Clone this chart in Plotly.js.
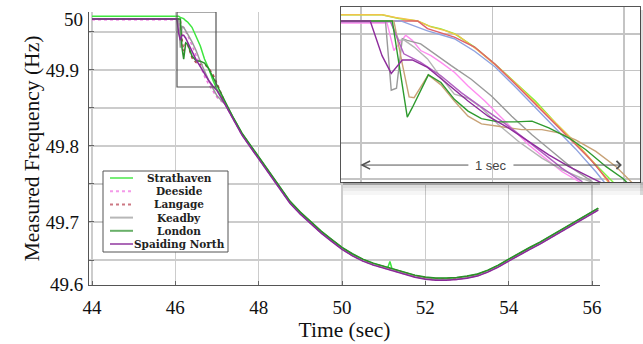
<!DOCTYPE html>
<html><head><meta charset="utf-8">
<script src="https://cdn.plot.ly/plotly-3.0.1.min.js"></script>
<style>html,body{margin:0;padding:0;background:#fff}#chart{width:643px;height:344px}</style>
</head><body><div id="chart"></div>
<script>
// ---------- main chart data ----------
const seriesNames = ['Strathaven', 'Deeside', 'Langage', 'Keadby', 'London', 'Spaiding North'];
const seriesColors = ['#3ee63e', '#f070e0', '#b84050', '#9a9a9a', '#2a8f2a', '#8a2a9a'];
const seriesDash = ['solid', 'dot', 'dot', 'solid', 'solid', 'solid'];

const time_s = [44, 46, 46.04, 46.08, 46.12, 46.16, 46.2, 46.25, 46.3, 46.4, 46.5, 46.6, 46.7, 46.8, 46.9, 47,
  47.2, 47.4, 47.6, 47.8, 48, 48.25, 48.5, 48.75, 49, 49.25, 49.5, 49.75, 50, 50.25, 50.5, 50.75,
  51, 51.1, 51.15, 51.2, 51.25, 51.5, 51.75, 52, 52.25, 52.5, 52.75, 53, 53.25, 53.5, 53.75,
  54, 54.25, 54.5, 54.75, 55, 55.25, 55.5, 55.75, 56, 56.15];

const strathaven = [49.9706, 49.9706, 49.9706, 49.9706, 49.9692, 49.9683, 49.9676, 49.9649, 49.9629, 49.9562, 49.9446, 49.9315, 49.9145, 49.9020, 49.8869, 49.8745,
  49.8563, 49.8358, 49.8166, 49.8008, 49.7850, 49.7666, 49.7469, 49.7271, 49.7126, 49.6995, 49.6876, 49.6768, 49.6663, 49.6578, 49.6508, 49.6455,
  49.6416, 49.6400, 49.6480, 49.6384, 49.6376, 49.6337, 49.6297, 49.6271, 49.6258, 49.6258, 49.6265, 49.6284, 49.6311, 49.6363, 49.6429,
  49.6508, 49.6587, 49.6660, 49.6732, 49.6811, 49.6890, 49.6969, 49.7047, 49.7126, 49.7179];
const deeside = [49.9661, 49.9661, 49.9661, 49.9661, 49.9522, 49.9576, 49.9560, 49.9492, 49.9448, 49.9324, 49.9189, 49.9044, 49.8916, 49.8811, 49.8727, 49.8640,
  49.8543, 49.8338, 49.8146, 49.7988, 49.7830, 49.7646, 49.7449, 49.7251, 49.7106, 49.6975, 49.6856, 49.6748, 49.6643, 49.6558, 49.6488, 49.6435,
  49.6396, 49.6380, 49.6372, 49.6364, 49.6356, 49.6317, 49.6277, 49.6251, 49.6238, 49.6238, 49.6245, 49.6264, 49.6291, 49.6343, 49.6409,
  49.6488, 49.6567, 49.6640, 49.6712, 49.6791, 49.6870, 49.6949, 49.7027, 49.7106, 49.7159];
const langage = [49.9672, 49.9672, 49.9672, 49.9672, 49.9672, 49.9414, 49.9249, 49.9360, 49.9325, 49.9158, 49.9096, 49.9075, 49.9070, 49.9026, 49.8945, 49.8826,
  49.8559, 49.8354, 49.8162, 49.8004, 49.7846, 49.7662, 49.7465, 49.7267, 49.7122, 49.6991, 49.6872, 49.6764, 49.6659, 49.6574, 49.6504, 49.6451,
  49.6412, 49.6396, 49.6388, 49.6380, 49.6372, 49.6333, 49.6293, 49.6267, 49.6254, 49.6254, 49.6261, 49.6280, 49.6307, 49.6359, 49.6425,
  49.6504, 49.6583, 49.6656, 49.6728, 49.6807, 49.6886, 49.6965, 49.7043, 49.7122, 49.7175];
const keadby = [49.9672, 49.9672, 49.9672, 49.9672, 49.9292, 49.9572, 49.9560, 49.9522, 49.9470, 49.9370, 49.9254, 49.9111, 49.8985, 49.8865, 49.8761, 49.8660,
  49.8547, 49.8342, 49.8150, 49.7992, 49.7834, 49.7650, 49.7453, 49.7255, 49.7110, 49.6979, 49.6860, 49.6752, 49.6647, 49.6562, 49.6492, 49.6439,
  49.6400, 49.6384, 49.6376, 49.6368, 49.6360, 49.6321, 49.6281, 49.6255, 49.6242, 49.6242, 49.6249, 49.6268, 49.6295, 49.6347, 49.6413,
  49.6492, 49.6571, 49.6644, 49.6716, 49.6795, 49.6874, 49.6953, 49.7031, 49.7110, 49.7163];
const london = [49.9672, 49.9672, 49.9672, 49.9672, 49.9672, 49.9290, 49.9142, 49.9357, 49.9337, 49.9184, 49.9122, 49.9116, 49.9091, 49.9018, 49.8908, 49.8798,
  49.8567, 49.8362, 49.8170, 49.8012, 49.7854, 49.7670, 49.7473, 49.7275, 49.7130, 49.6999, 49.6880, 49.6772, 49.6667, 49.6582, 49.6512, 49.6459,
  49.6420, 49.6404, 49.6396, 49.6388, 49.6380, 49.6341, 49.6301, 49.6275, 49.6262, 49.6262, 49.6269, 49.6288, 49.6315, 49.6367, 49.6433,
  49.6512, 49.6591, 49.6664, 49.6736, 49.6815, 49.6894, 49.6973, 49.7051, 49.7130, 49.7183];
const spaidingNorth = [49.9672, 49.9672, 49.9660, 49.9481, 49.9390, 49.9457, 49.9457, 49.9418, 49.9360, 49.9239, 49.9133, 49.9044, 49.8947, 49.8862, 49.8790, 49.8730,
  49.8540, 49.8335, 49.8143, 49.7985, 49.7827, 49.7643, 49.7446, 49.7248, 49.7103, 49.6972, 49.6853, 49.6745, 49.6640, 49.6555, 49.6485, 49.6432,
  49.6393, 49.6377, 49.6369, 49.6361, 49.6353, 49.6314, 49.6274, 49.6248, 49.6235, 49.6235, 49.6242, 49.6261, 49.6288, 49.6340, 49.6406,
  49.6485, 49.6564, 49.6637, 49.6709, 49.6788, 49.6867, 49.6946, 49.7024, 49.7103, 49.7156];

const yTickVals = [49.65, 49.7, 49.75, 49.8, 49.85, 49.9, 49.95];
const yTickText = ['', '49.7', '', '49.8', '', '49.9', ''];
const yEndTickVals = [49.618, 49.967];
const yEndTickText = ['49.6', '50'];

// zoom box drawn on the main chart (time, Hz)
const zoomBoxT = [46.04, 46.976];
const zoomBoxF = [49.8776, 49.9763];

// ---------- inset (zoom) data ----------
const insetNames = ['Strathaven', 'trace 7', 'trace 8', 'trace 9', 'Deeside', 'Keadby', 'trace 10', 'Langage', 'trace 11', 'London', 'Spaiding North'];
const insetColors = ['#7cf53c', '#f2c24a', '#e0606a', '#8fa3e0', '#ff8cf0', '#9a9a9a', '#b4b4b4', '#c8a276', '#b060c0', '#2e9a2e', '#8e2c9c'];
const inset_strathaven_t = [45.920, 46.080, 46.144, 46.215, 46.260, 46.304, 46.355, 46.432, 46.509, 46.586, 46.663, 46.740, 46.816, 46.868, 46.944, 46.983];
const inset_strathaven_v = [49.9706, 49.9706, 49.9685, 49.9672, 49.9643, 49.9628, 49.9602, 49.9528, 49.9435, 49.9333, 49.9231, 49.9110, 49.8999, 49.8916, 49.8804, 49.8748];
const inset_yellow_t = [45.920, 46.080, 46.131, 46.215, 46.266, 46.317, 46.368, 46.445, 46.522, 46.599, 46.675, 46.752, 46.829, 46.893, 46.944];
const inset_yellow_v = [49.9706, 49.9706, 49.9691, 49.9672, 49.9639, 49.9620, 49.9593, 49.9509, 49.9416, 49.9314, 49.9203, 49.9092, 49.8981, 49.8878, 49.8776];
const inset_red_t = [45.920, 46.215, 46.253, 46.304, 46.355, 46.432, 46.509, 46.586, 46.663, 46.714, 46.791, 46.868, 46.944];
const inset_red_v = [49.9672, 49.9672, 49.9630, 49.9605, 49.9583, 49.9528, 49.9435, 49.9324, 49.9212, 49.9138, 49.9027, 49.8916, 49.8786];
const inset_blue_t = [45.920, 46.151, 46.253, 46.355, 46.432, 46.509, 46.586, 46.663, 46.740, 46.816, 46.893, 46.932];
const inset_blue_v = [49.9672, 49.9672, 49.9617, 49.9574, 49.9505, 49.9420, 49.9309, 49.9194, 49.9079, 49.8967, 49.8841, 49.8771];
const inset_deeside_t = [45.920, 46.099, 46.125, 46.148, 46.170, 46.195, 46.227, 46.266, 46.304, 46.355, 46.407, 46.471, 46.535, 46.586, 46.637, 46.688, 46.765, 46.842];
const inset_deeside_v = [49.9661, 49.9661, 49.9509, 49.9555, 49.9593, 49.9565, 49.9509, 49.9481, 49.9444, 49.9389, 49.9314, 49.9231, 49.9138, 49.9064, 49.8990, 49.8930, 49.8841, 49.8776];
const inset_keadby_t = [45.920, 46.093, 46.115, 46.135, 46.157, 46.176, 46.227, 46.279, 46.343, 46.419, 46.496, 46.573, 46.650, 46.727, 46.804, 46.880];
const inset_keadby_v = [49.9672, 49.9672, 49.9290, 49.9301, 49.9574, 49.9565, 49.9546, 49.9491, 49.9426, 49.9351, 49.9259, 49.9147, 49.9045, 49.8953, 49.8860, 49.8786];
const inset_gray2_t = [45.920, 46.112, 46.144, 46.163, 46.202, 46.253, 46.304, 46.355, 46.407, 46.458, 46.522, 46.599, 46.688, 46.765, 46.842, 46.906];
const inset_gray2_v = [49.9672, 49.9672, 49.9565, 49.9568, 49.9528, 49.9463, 49.9361, 49.9268, 49.9246, 49.9194, 49.9101, 49.9008, 49.8916, 49.8851, 49.8804, 49.8767];
const inset_langage_t = [45.920, 46.125, 46.157, 46.183, 46.202, 46.256, 46.304, 46.355, 46.407, 46.458, 46.522, 46.611, 46.688, 46.752, 46.816, 46.893, 46.970, 47.034];
const inset_langage_v = [49.9672, 49.9672, 49.9435, 49.9253, 49.9249, 49.9375, 49.9320, 49.9231, 49.9147, 49.9105, 49.9092, 49.9073, 49.9073, 49.9055, 49.9017, 49.8953, 49.8869, 49.8776];
const inset_purple2_t = [45.920, 46.112, 46.163, 46.227, 46.304, 46.381, 46.458, 46.535, 46.611, 46.688, 46.765, 46.842];
const inset_purple2_v = [49.9667, 49.9667, 49.9491, 49.9444, 49.9370, 49.9277, 49.9197, 49.9120, 49.9036, 49.8949, 49.8860, 49.8786];
const inset_london_t = [45.920, 46.119, 46.176, 46.195, 46.256, 46.304, 46.355, 46.407, 46.458, 46.522, 46.586, 46.650, 46.714, 46.791, 46.855, 46.932, 46.996, 47.034];
const inset_london_v = [49.9672, 49.9672, 49.9142, 49.9194, 49.9375, 49.9333, 49.9240, 49.9175, 49.9134, 49.9116, 49.9116, 49.9120, 49.9083, 49.9027, 49.8962, 49.8869, 49.8804, 49.8748];
const inset_spaiding_t = [45.920, 46.035, 46.080, 46.115, 46.157, 46.195, 46.253, 46.330, 46.407, 46.483, 46.560, 46.637, 46.714, 46.791, 46.868, 46.932];
const inset_spaiding_v = [49.9672, 49.9672, 49.9481, 49.9383, 49.9457, 49.9457, 49.9416, 49.9324, 49.9231, 49.9147, 49.9083, 49.9008, 49.8934, 49.8869, 49.8813, 49.8767];

// 1-second span marker in the inset
const spanStart = 45.997, spanEnd = 46.992, spanLevel = 49.8878;
const spanLabel = '1 sec';

// ---------- build ----------
const W = 643, H = 344;
const px = x => x / W, py = y => (H - y) / H;
const serif = 'Liberation Serif, Times New Roman, serif';

const mainValues = [strathaven, deeside, langage, keadby, london, spaidingNorth];
const traces = mainValues.map((v, i) => ({
  type: 'scatter', mode: 'lines', x: time_s, y: v, name: seriesNames[i],
  xaxis: 'x', yaxis: 'y', showlegend: false, hoverinfo: 'skip',
  line: {color: seriesColors[i], width: 1.5, dash: seriesDash[i]}
}));

const insetT = [inset_strathaven_t, inset_yellow_t, inset_red_t, inset_blue_t, inset_deeside_t, inset_keadby_t, inset_gray2_t, inset_langage_t, inset_purple2_t, inset_london_t, inset_spaiding_t];
const insetV = [inset_strathaven_v, inset_yellow_v, inset_red_v, inset_blue_v, inset_deeside_v, inset_keadby_v, inset_gray2_v, inset_langage_v, inset_purple2_v, inset_london_v, inset_spaiding_v];
insetT.forEach((t, i) => traces.push({
  type: 'scatter', mode: 'lines', x: t, y: insetV[i], name: insetNames[i] + ' (zoom)',
  xaxis: 'x2', yaxis: 'y2', showlegend: false, hoverinfo: 'skip',
  line: {color: insetColors[i], width: 1.4}
}));

const shapes = [];
// zoom rectangle on main chart
shapes.push({type: 'rect', xref: 'x', yref: 'y', x0: zoomBoxT[0], x1: zoomBoxT[1], y0: zoomBoxF[0], y1: zoomBoxF[1],
  line: {color: '#555', width: 1.2}, fillcolor: 'rgba(0,0,0,0)', layer: 'above'});
// inset drop shadow
[[182, 185, 0.20], [185, 188, 0.13], [188, 191, 0.08], [191, 195, 0.035]].forEach(s => {
  shapes.push({type: 'rect', xref: 'paper', yref: 'paper', x0: px(343), x1: px(643), y0: py(s[1]), y1: py(s[0]),
    line: {width: 0}, fillcolor: 'rgba(0,0,0,' + s[2] + ')', layer: 'above'});
});
shapes.push({type: 'rect', xref: 'paper', yref: 'paper', x0: px(640), x1: px(643), y0: py(195), y1: py(10),
  line: {width: 0}, fillcolor: 'rgba(0,0,0,0.12)', layer: 'above'});
// legend box
shapes.push({type: 'rect', xref: 'paper', yref: 'paper', x0: px(103), x1: px(228), y0: py(252), y1: py(171),
  line: {color: '#555', width: 1}, fillcolor: '#ffffff', layer: 'above'});
const annotations = [];
seriesNames.forEach((n, i) => {
  const yy = 178 + i * 13.2;
  shapes.push({type: 'line', xref: 'paper', yref: 'paper', x0: px(110), x1: px(133), y0: py(yy), y1: py(yy),
    line: {color: seriesColors[i], width: 2, dash: seriesDash[i]}, opacity: 0.7, layer: 'above'});
  annotations.push({xref: 'paper', yref: 'paper', x: px(179), y: py(yy), text: n, showarrow: false, borderpad: 0,
    xanchor: 'center', yanchor: 'middle', font: {family: 'DejaVu Serif, serif', size: 10.5, weight: 'bold', color: '#222'}});
});
// end labels of the frequency axis
const tickFont = {family: serif, size: 19, color: '#111'};
yEndTickVals.forEach((v, i) => annotations.push({xref: 'paper', yref: 'y', x: px(84), y: v, text: yEndTickText[i],
  showarrow: false, xanchor: 'right', yanchor: 'middle', borderpad: 0, font: tickFont}));
// 1 sec span
annotations.push({xref: 'x2', yref: 'y2', axref: 'x2', ayref: 'y2', x: spanStart, y: spanLevel, ax: 46.414, ay: spanLevel,
  text: '', showarrow: true, arrowhead: 5, arrowsize: 1.6, arrowwidth: 1, arrowcolor: '#555'});
annotations.push({xref: 'x2', yref: 'y2', axref: 'x2', ayref: 'y2', x: spanEnd, y: spanLevel, ax: 46.574, ay: spanLevel,
  text: '', showarrow: true, arrowhead: 4, arrowsize: 1.6, arrowwidth: 1, arrowcolor: '#555'});
annotations.push({xref: 'x2', yref: 'y2', x: 46.494, y: spanLevel, text: spanLabel, showarrow: false,
  xanchor: 'center', yanchor: 'middle', font: {family: 'Liberation Sans, Arial, sans-serif', size: 13, color: '#444'}});

const yRange = [49.6171, 49.9763];
const layout = {
  width: W, height: H, margin: {l: 0, r: 0, t: 0, b: 0},
  paper_bgcolor: '#ffffff', plot_bgcolor: '#ffffff', showlegend: false,
  font: {family: serif, color: '#111'},
  xaxis: {domain: [px(89), px(600)], range: [43.928, 56.192], anchor: 'y', automargin: false,
    tickmode: 'linear', tick0: 44, dtick: 2, showgrid: true, gridcolor: '#cccccc', gridwidth: 1.5,
    zeroline: false, showline: true, linecolor: '#555', linewidth: 1.2,
    ticks: 'inside', ticklen: 4, tickcolor: '#666', tickfont: tickFont, ticklabelstandoff: 5,
    title: {text: 'Time (sec)', font: {family: serif, size: 21.5, color: '#111'}, standoff: 4}},
  yaxis: {domain: [59 / H, 332 / H], range: yRange, anchor: 'x', automargin: false,
    tickmode: 'array', tickvals: yTickVals, ticktext: yTickText,
    showgrid: true, gridcolor: '#cccccc', gridwidth: 1.5, zeroline: false,
    showline: true, linecolor: '#555', linewidth: 1.2,
    ticks: 'inside', ticklen: 5, tickcolor: '#666', tickfont: tickFont, ticklabelstandoff: 5,
    title: {text: 'Measured Frequency (Hz)', font: {family: serif, size: 21.5, color: '#111'}, standoff: 0}},
  xaxis2: {domain: [px(341), px(640)], anchor: 'y2', range: [45.924, 47.0608], automargin: false,
    tickmode: 'linear', tick0: 46, dtick: 0.5, showgrid: true, gridcolor: '#c4c4c4', gridwidth: 1.5,
    zeroline: false, showline: true, mirror: true, linecolor: '#555', linewidth: 1.2,
    ticks: '', showticklabels: false},
  yaxis2: {domain: [py(182), py(7)], anchor: 'x2', range: [49.87846, 49.97488], automargin: false,
    tickmode: 'linear', tick0: 49.88, dtick: 0.02, showgrid: true, gridcolor: '#c4c4c4', gridwidth: 1.5,
    zeroline: false, showline: true, mirror: true, linecolor: '#555', linewidth: 1.2,
    ticks: '', showticklabels: false},
  shapes: shapes,
  annotations: annotations
};

Plotly.newPlot('chart', traces, layout, {staticPlot: true, displayModeBar: false});
</script>
</body></html>
